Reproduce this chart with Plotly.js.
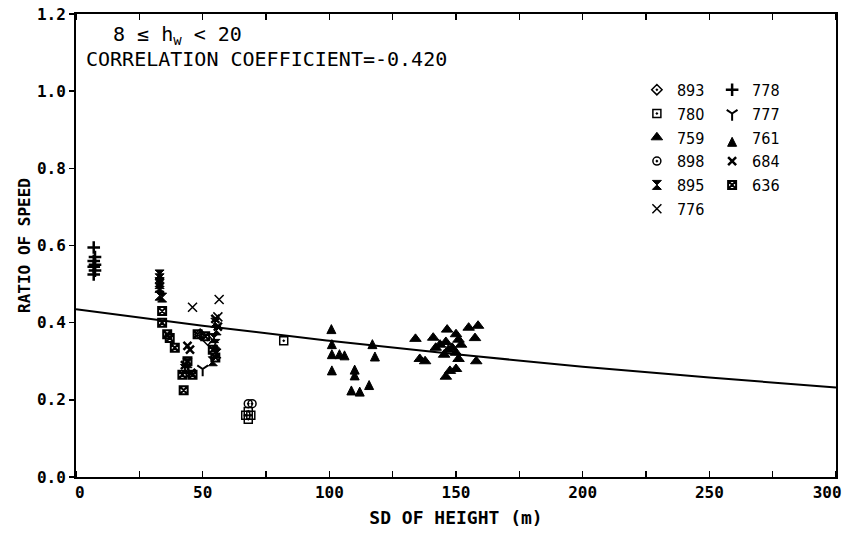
<!DOCTYPE html>
<html>
<head>
<meta charset="utf-8">
<script src="https://cdn.plot.ly/plotly-3.0.1.min.js"></script>
<style>html,body{margin:0;padding:0;background:#fff;}#chart{width:847px;height:533px;}</style>
</head>
<body>
<div id="chart"></div>
<script>
// ---- data ----
const x893 = [49, 52];
const y893 = [0.37, 0.355];
const x780 = [67, 68, 69, 68, 82];
const y780 = [0.16, 0.15, 0.16, 0.17, 0.353];
const x759 = [134, 135.7, 137.8, 141, 146.5, 142, 143.7, 146, 150, 151, 152, 147, 148.5, 145.3, 150, 151, 155, 158.7, 157.5, 158, 146, 147.6, 150];
const y759 = [0.358, 0.306, 0.30, 0.361, 0.382, 0.335, 0.343, 0.35, 0.37, 0.356, 0.343, 0.33, 0.335, 0.317, 0.322, 0.306, 0.387, 0.392, 0.36, 0.30, 0.26, 0.275, 0.28];
const x898 = [68, 69.5];
const y898 = [0.19, 0.19];
const x895 = [33, 33, 33, 33, 33, 33, 34, 43, 44, 55, 55.5, 54.5, 55, 55.5, 54];
const y895 = [0.525, 0.515, 0.505, 0.50, 0.49, 0.47, 0.465, 0.28, 0.295, 0.40, 0.38, 0.36, 0.345, 0.32, 0.30];
const x776 = [46, 56.5, 56];
const y776 = [0.44, 0.46, 0.415];
const x778 = [7, 7.5, 7, 7.5, 7, 7.5, 7];
const y778 = [0.595, 0.57, 0.56, 0.55, 0.545, 0.535, 0.525];
const x777 = [50];
const y777 = [0.28];
const x761 = [100.8, 101, 101, 104, 106, 101, 110, 110, 117, 118, 108.7, 112, 115.7];
const y761 = [0.395, 0.356, 0.33, 0.33, 0.327, 0.288, 0.29, 0.275, 0.356, 0.324, 0.236, 0.233, 0.25];
const x684 = [44, 45, 43, 45.5, 55, 56];
const y684 = [0.34, 0.33, 0.29, 0.27, 0.41, 0.39];
const x636 = [34, 34, 36, 37, 39, 42.5, 42, 44, 46, 48, 51, 54, 55];
const y636 = [0.43, 0.40, 0.37, 0.36, 0.335, 0.225, 0.265, 0.30, 0.265, 0.37, 0.365, 0.33, 0.31];
const lineX = [0, 50, 100, 150, 200, 250, 300];
const lineY = [0.435, 0.392, 0.353, 0.318, 0.286, 0.258, 0.232];
const xTicks = [0, 50, 100, 150, 200, 250, 300];
const xTickText = ['0', '50', '100', '150', '200', '250', '300'];
const yTicks = [0.0, 0.2, 0.4, 0.6, 0.8, 1.0, 1.2];
const yTickText = ['0.0', '0.2', '0.4', '0.6', '0.8', '1.0', '1.2'];
const annText1 = '8 \u2264 h<sub>w</sub> < 20';
const annText2 = 'CORRELATION COEFFICIENT=-0.420';
const xTitle = 'SD OF HEIGHT (m)';
const yTitle = 'RATIO OF SPEED';

// ---- styling ----
const MONO = 'DejaVu Sans Mono, monospace';
const NARROW = 'DejaVu Sans Condensed, sans-serif';
// the plotter pulls the two end labels inward so they stay inside the frame
const xLabelPos = xTicks.map(function (v, i) {
  if (i === 0) return v + 1.5;
  if (i === xTicks.length - 1) return v - 3.5;
  return v;
});
function mk(name, xs, ys, symbol, size, lw, leg) {
  return {
    type: 'scatter', mode: 'markers', name: name, x: xs, y: ys, legend: leg,
    marker: { symbol: symbol, size: size, color: '#000', line: { color: '#000', width: lw } },
    hoverinfo: 'skip'
  };
}
const traces = [
  mk('893', x893, y893, 'diamond-open-dot', 8, 1.5, 'legend'),
  mk('780', x780, y780, 'square-open-dot', 8, 1.5, 'legend'),
  mk('759', x759, y759, 'triangle-up', 10, 1, 'legend'),
  mk('898', x898, y898, 'circle-open-dot', 8, 1.5, 'legend'),
  mk('895', x895, y895, 'hourglass', 9, 1, 'legend'),
  mk('776', x776, y776, 'x-thin-open', 9, 1.5, 'legend'),
  mk('778', x778, y778, 'cross-thin-open', 9, 2.5, 'legend2'),
  mk('777', x777, y777, 'y-down-open', 9, 2, 'legend2'),
  mk('761', x761, y761, 'arrow-up', 9, 1, 'legend2'),
  mk('684', x684, y684, 'x-thin-open', 8, 2.5, 'legend2'),
  mk('636', x636, y636, 'square-x-open', 8, 2, 'legend2'),
  { type: 'scatter', mode: 'lines', x: lineX, y: lineY, line: { color: '#000', width: 2, shape: 'spline' }, showlegend: false, hoverinfo: 'skip' }
];

const legendStyle = function (xp) {
  return {
    orientation: 'v', x: xp, y: 0.873, xanchor: 'left', yanchor: 'top',
    itemwidth: 30, tracegroupgap: 0,
    font: { family: NARROW, size: 16, color: '#000' },
    bgcolor: 'rgba(0,0,0,0)', borderwidth: 0
  };
};

const layout = {
  width: 847, height: 533,
  margin: { l: 76, r: 11, t: 14, b: 56 },
  paper_bgcolor: '#fff', plot_bgcolor: '#fff',
  font: { family: MONO, color: '#000', size: 16 },
  showlegend: true,
  legend: legendStyle(0.738),
  legend2: legendStyle(0.837),
  xaxis: {
    range: [0, 300], showgrid: false, zeroline: false,
    showline: true, linecolor: '#000', linewidth: 2, mirror: 'ticks',
    tickmode: 'array', tickvals: xLabelPos, ticktext: xTickText,
    ticks: '',
    minor: { tickmode: 'linear', tick0: 0, dtick: 25, ticks: 'inside', ticklen: 6, tickwidth: 1.5, tickcolor: '#000' },
    tickfont: { family: MONO, size: 16, weight: 'bold' },
    title: { text: xTitle, font: { family: MONO, size: 18, weight: 'bold' }, standoff: 10 },
    automargin: false, fixedrange: true
  },
  yaxis: {
    range: [0, 1.2], showgrid: false, zeroline: false,
    showline: true, linecolor: '#000', linewidth: 2, mirror: true,
    tickmode: 'array', tickvals: yTicks, ticktext: yTickText,
    ticks: 'outside', ticklen: 5, tickwidth: 1.5, tickcolor: '#000',
    tickfont: { family: MONO, size: 16, weight: 'bold' },
    title: { text: yTitle, font: { family: MONO, size: 16, weight: 'bold' }, standoff: 2 },
    automargin: false, fixedrange: true
  },
  annotations: [
    { xref: 'paper', yref: 'paper', x: 0.046, y: 0.955, xanchor: 'left', yanchor: 'middle', showarrow: false,
      text: annText1, font: { family: MONO, size: 20, color: '#000' } },
    { xref: 'paper', yref: 'paper', x: 0.01, y: 0.903, xanchor: 'left', yanchor: 'middle', showarrow: false,
      text: annText2, font: { family: MONO, size: 20, color: '#000' } }
  ]
};

Plotly.newPlot('chart', traces, layout, { staticPlot: true, displayModeBar: false });
</script>
</body>
</html>
